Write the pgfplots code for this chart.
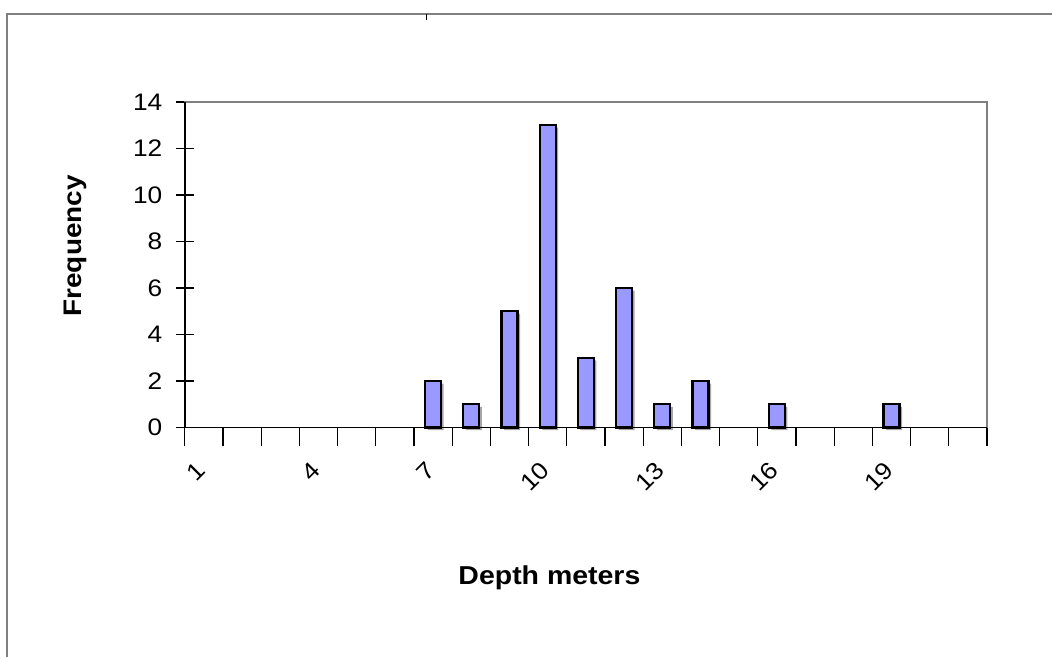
\documentclass[border=0pt]{standalone}
\usepackage{pgfplots}
\pgfplotsset{compat=1.18}
\usepackage{fontspec}
\setmainfont{Liberation Sans}[FakeStretch=1.1]
\definecolor{barfill}{HTML}{9999FF}
\definecolor{framegray}{HTML}{808080}
\begin{document}
\begin{tikzpicture}
\begin{axis}[
  scale only axis,
  width=803bp, height=326bp,
  xmin=0.5, xmax=21.5, ymin=0, ymax=14,
  clip=false,
  axis line style={draw=framegray, line width=1.2bp},
  tickpos=left,
  tick align=center,
  major tick length=18bp,
  minor tick length=18bp,
  tick style={black, line width=1.2bp},
  xtick={1,4,7,10,13,16,19},
  major x tick style={draw=none},
  minor xtick={0.5,1.5,...,21.5},
  ytick={0,2,...,14},
  /pgf/number format/assume math mode=true,
  tick label style={font=\fontsize{24}{28}\selectfont},
  xticklabel style={yshift=-18bp, rotate=45, anchor=east},
  yticklabel style={xshift=-10bp},
  ybar, bar width=16bp,
]
% shadow
\addplot[fill=black!35, draw=none, bar shift=0pt, xshift=2.5bp, yshift=-2.5bp, forget plot] coordinates {
(7,2) (8,1) (9,5) (10,13) (11,3) (12,6) (13,1) (14,2) (16,1) (19,1)};
% bars
\addplot[fill=barfill, draw=black, line width=2.2bp, bar shift=0pt] coordinates {
(7,2) (8,1) (9,5) (10,13) (11,3) (12,6) (13,1) (14,2) (16,1) (19,1)};
% axis lines (left and bottom in black)
\draw[black, line width=2bp] (rel axis cs:0,0) -- (rel axis cs:0,1);
\draw[black, line width=1.2bp] (rel axis cs:0,0) -- (rel axis cs:1,0);
% labels
\node[font=\bfseries\fontsize{25.5}{30}\selectfont, rotate=90] at (rel axis cs:-0.137,0.558) {Frequency};
\node[font=\bfseries\fontsize{26}{30}\selectfont] at (rel axis cs:0.4545,-0.460) {Depth meters};
% outer frame
\draw[framegray, line width=2bp] (rel axis cs:-0.22167,-0.70552) -- (rel axis cs:-0.22167,1.26994) -- (rel axis cs:1.08095,1.26994);
\draw[black, line width=1.5bp] (rel axis cs:0.30137,1.26994) -- (rel axis cs:0.30137,1.2515);
% bounding box
\path (rel axis cs:-0.23039,-0.70552) rectangle (rel axis cs:1.08095,1.31288);
\end{axis}
\end{tikzpicture}
\end{document}
